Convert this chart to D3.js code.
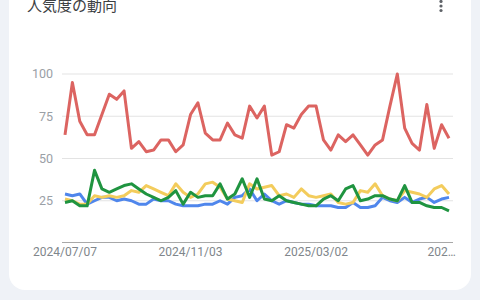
<!DOCTYPE html>
<html><head><meta charset="utf-8">
<script src="https://cdn.jsdelivr.net/npm/d3@7"></script>
<style>html,body{margin:0;padding:0;background:#eff2f7;}svg{display:block;}</style>
</head><body>
<svg id="c" width="480" height="300"></svg>
<script>
const title = "人気度の動向";
const yTicks = [25, 50, 75, 100];
const xTickIndex = [0, 17, 34, 51];
const xTickLabels = ["2024/07/07", "2024/11/03", "2025/03/02", "202…"];
const red = [64,95,72,64,64,76,88,85,90,56,60,54,55,61,61,54,58,76,83,65,61,61,71,64,62,81,74,81,52,54,70,68,76,81,81,61,55,64,60,64,58,52,58,61,81,100,68,59,55,82,56,70,62];
const blue = [29,28,29,23,25,27,27,25,26,25,23,23,26,25,25,23,22,22,22,23,23,25,23,27,28,32,25,29,25,23,25,24,23,23,22,22,22,21,21,24,21,21,22,27,25,24,27,24,26,27,24,26,27];
const yellow = [26,25,23,23,28,27,28,27,28,31,30,34,32,30,28,35,30,27,29,35,36,33,26,25,24,35,32,33,34,28,29,27,32,28,27,28,29,24,23,24,31,30,35,28,26,25,31,30,29,27,32,34,29];
const green = [24,25,22,22,43,32,30,32,34,35,32,29,27,25,27,31,23,30,27,28,28,35,26,29,38,27,38,26,25,28,25,24,23,22,22,26,28,25,32,34,25,26,28,28,26,25,34,24,24,22,21,21,19];
const seriesColors = {blue:"#4f86ec", yellow:"#f3cc5c", green:"#1f9440", red:"#dc6461"};

const svg = d3.select("#c");
svg.append("rect").attr("x",9).attr("y",-30).attr("width",462).attr("height",320).attr("rx",16).attr("fill","#ffffff");
svg.append("text").attr("x",27).attr("y",10.5).attr("font-family","'Noto Sans CJK JP'").attr("font-size",15).attr("fill","#3c4043").text(title);
[1.5,6,10.5].forEach(cy=>svg.append("circle").attr("cx",441).attr("cy",cy).attr("r",1.6).attr("fill","#5f6368"));

const x = d3.scaleLinear().domain([0, red.length-1]).range([65, 449]);
const y = d3.scaleLinear().domain([0, 100]).range([243, 74]);
const left = 62, right = 453;

const g = svg.append("g");
g.selectAll("line.grid").data(yTicks).join("line")
  .attr("x1",left).attr("x2",right).attr("y1",d=>y(d)).attr("y2",d=>y(d))
  .attr("stroke","#e3e3e3").attr("stroke-width",1);
g.selectAll("text.yl").data(yTicks).join("text")
  .attr("x",53).attr("y",d=>y(d)).attr("dy","0.35em").attr("text-anchor","end")
  .attr("font-family","Roboto").attr("font-size",12.5).attr("fill","#9aa0a6").text(d=>d);
g.append("line").attr("x1",left).attr("x2",right).attr("y1",242.5).attr("y2",242.5).attr("stroke","#a8a8a8").attr("stroke-width",1.2);
g.selectAll("text.xl").data(xTickIndex).join("text")
  .attr("x",d=>x(d)).attr("y",256).attr("text-anchor","middle")
  .attr("font-family","Roboto").attr("font-size",12).attr("fill","#80868b")
  .text((d,i)=>xTickLabels[i]);

const line = d3.line().x((d,i)=>x(i)).y(d=>y(d));
[["blue",blue],["yellow",yellow],["green",green],["red",red]].forEach(([k,arr])=>{
  g.append("path").datum(arr).attr("d",line).attr("fill","none")
   .attr("stroke",seriesColors[k]).attr("stroke-width",3).attr("stroke-linejoin","round");
});
</script>
</body></html>
